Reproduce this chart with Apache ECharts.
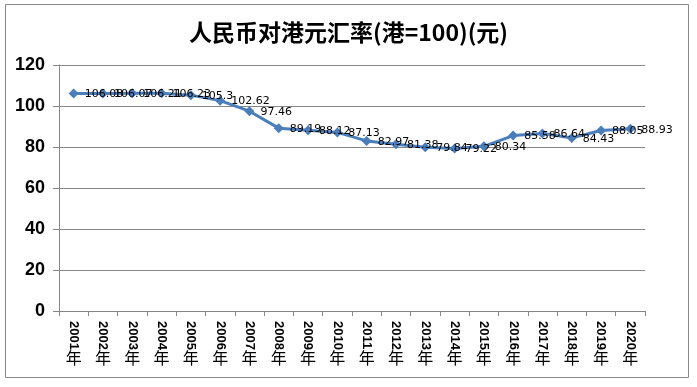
<!DOCTYPE html>
<html><head><meta charset="utf-8">
<script src="https://cdn.jsdelivr.net/npm/echarts@6/dist/echarts.min.js"></script>
<style>html,body{margin:0;padding:0;background:#fff}#c{width:697px;height:387px}</style>
</head><body><div id="c"></div>
<script>
const titleText = '人民币对港元汇率(港=100)(元)';
const years = ['2001','2002','2003','2004','2005','2006','2007','2008','2009','2010','2011','2012','2013','2014','2015','2016','2017','2018','2019','2020'];
const yearSuffix = '年';
const rates = [106.08,106.07,106.21,106.23,105.3,102.62,97.46,89.19,88.12,87.13,82.97,81.38,79.84,79.22,80.34,85.58,86.64,84.43,88.05,88.93];
const yTicks = [0,20,40,60,80,100,120];

const chart = echarts.init(document.getElementById('c'));
chart.setOption({
  backgroundColor:'#fff',
  animation:false,
  title:{text:titleText,left:'center',top:16,textStyle:{fontFamily:'Noto Sans CJK SC',fontSize:23,fontWeight:'bold',color:'#000'}},
  graphic:[{type:'rect',shape:{x:5.5,y:4.5,width:683,height:373},style:{fill:'none',stroke:'#888',lineWidth:1},silent:true}],
  grid:{left:59,right:52,top:65,bottom:76},
  xAxis:[{
    type:'category',data:years,boundaryGap:true,
    axisLine:{lineStyle:{color:'#868686'}},
    axisTick:{show:true,length:5,lineStyle:{color:'#868686'},alignWithLabel:false},
    axisLabel:{rotate:-90,margin:10,fontFamily:'Liberation Sans',fontWeight:'bold',fontSize:13,color:'#000',interval:0}
  },{
    type:'category',data:years.map(()=>yearSuffix),position:'bottom',boundaryGap:true,
    axisLine:{show:false},axisTick:{show:false},splitLine:{show:false},
    axisLabel:{margin:39,fontFamily:'Noto Sans CJK SC',fontSize:16,color:'#000',interval:0}
  }],
  yAxis:{
    type:'value',min:yTicks[0],max:yTicks[yTicks.length-1],interval:20,
    axisLine:{show:true,lineStyle:{color:'#868686'}},
    axisTick:{show:true,length:6,lineStyle:{color:'#868686'}},
    splitLine:{lineStyle:{color:'#868686',width:1}},
    axisLabel:{margin:14,fontFamily:'Liberation Sans',fontWeight:'bold',fontSize:18,color:'#000'}
  },
  series:[{
    type:'line',data:rates,xAxisIndex:0,
    symbol:'diamond',symbolSize:10,
    lineStyle:{color:'#4A7EBB',width:3},
    itemStyle:{color:'#4A7EBB'},
    label:{show:true,position:'right',distance:6,offset:[0,1],fontFamily:'DejaVu Sans',fontSize:11,color:'#000'}
  }]
});
</script></body></html>
